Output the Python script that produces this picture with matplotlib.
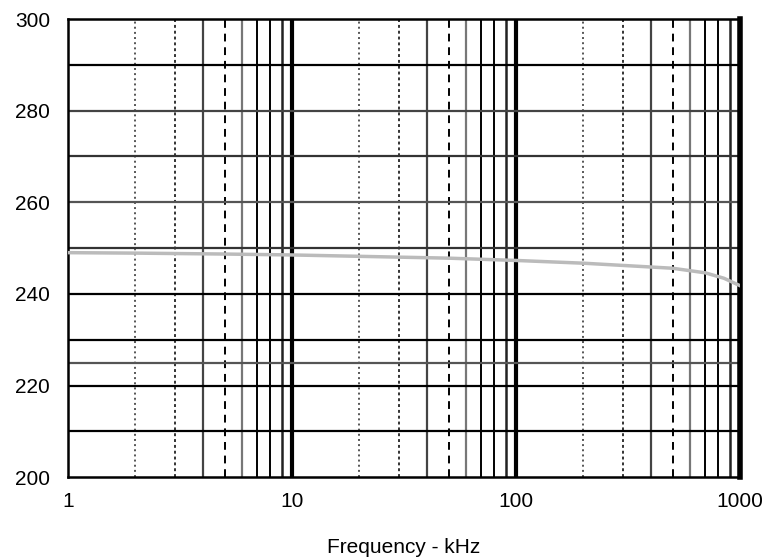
import numpy as np
import matplotlib.pyplot as plt

# curve (frequency in kHz, value)
freq = [1, 2, 5, 10, 20, 50, 100, 200, 500, 700, 850, 1000]
vals = [249.0, 248.9, 248.7, 248.5, 248.2, 247.8, 247.3, 246.7, 245.6, 244.6, 243.4, 241.8]

y_ticks = [200, 220, 240, 260, 280, 300]
x_ticks = [1, 10, 100, 1000]
x_tick_labels = ["1", "10", "100", "1000"]
h_lines = [210, 220, 225, 230, 240, 250, 260, 270, 280, 290]
h_colors = ["black", "black", "#555555", "black", "black", "#333333", "#555555", "#333333", "#444444", "black"]

plt.rcParams['font.family'] = ['Liberation Sans', 'DejaVu Sans']

fig = plt.figure(figsize=(7.67, 5.6), dpi=100)
ax = fig.add_axes([0.0887, 0.148, 0.876, 0.818])
ax.set_xscale('log')
ax.set_xlim(1, 1000)
ax.set_ylim(200, 300)

# vertical grid, same pattern each decade
styles = {2: (':', '#555555', 1.4), 3: ((0, (1.5, 1.5)), '#333333', 1.4),
          4: ('-', '#444444', 1.6), 5: ((0, (4, 3)), 'black', 1.4),
          6: ('-', '#777777', 1.6), 7: ('-', 'black', 1.4),
          8: ('-', 'black', 1.4), 9: ('-', '#222222', 1.8)}
for dec in [1, 10, 100]:
    for m, (ls, col, lw) in styles.items():
        ax.axvline(m * dec, color=col, linestyle=ls, linewidth=lw, zorder=1)
    if dec > 1:
        ax.axvline(dec, color='black', linewidth=3, zorder=1)

for yv, col in zip(h_lines, h_colors):
    ax.axhline(yv, color=col, linewidth=1.6, zorder=1)

ax.plot(freq, vals, color='#bbbbbb', linewidth=2.5, zorder=3)

for side in ['top', 'bottom', 'left']:
    ax.spines[side].set_linewidth(1.8)
ax.spines['right'].set_linewidth(4)

ax.set_xticks(x_ticks)
ax.set_xticklabels(x_tick_labels)
ax.xaxis.set_minor_locator(plt.NullLocator())
ax.set_yticks(y_ticks)
ax.tick_params(axis='y', length=0, labelsize=15, pad=13)
ax.tick_params(axis='x', length=0, labelsize=15, pad=11)
ax.set_xlabel("Frequency - kHz", fontsize=15, labelpad=19)

fig.savefig("out.png", dpi=100)
